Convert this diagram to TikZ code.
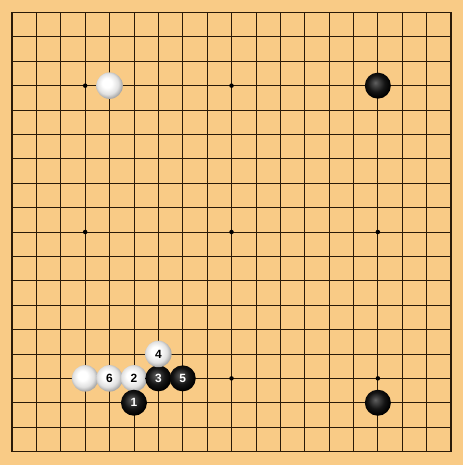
\documentclass[tikz,border=0pt]{standalone}
\usepackage{fontspec}
\setmainfont{Liberation Sans}
\definecolor{boardbg}{HTML}{F9CB86}
\definecolor{gridc}{HTML}{2A1A08}
\pgfdeclareradialshading{wball}{\pgfqpoint{-6bp}{6bp}}{color(0bp)=(white); color(9bp)=(white); color(20bp)=(black!12); color(27bp)=(black!35); color(50bp)=(black!35)}
\pgfdeclareradialshading{bball}{\pgfqpoint{-5bp}{6bp}}{color(0bp)=(black!62); color(5bp)=(black!72); color(16bp)=(black!92); color(26bp)=(black); color(50bp)=(black)}
\begin{document}
\begin{tikzpicture}[x=1bp,y=-1bp,
  gridline/.style={gridc,line width=0.8bp},
  starpt/.style={circle,fill=black,inner sep=0pt,minimum size=4.5bp},
  stonefont/.style={font=\bfseries\fontsize{12}{12}\selectfont},
  bstone/.style={circle,inner sep=0pt,minimum size=26bp,shading=bball,text=white,stonefont},
  wstone/.style={circle,inner sep=0pt,minimum size=26.5bp,shading=wball,text=black,stonefont}]
\fill[boardbg] (0,0) rectangle (463,465);
\useasboundingbox (0,0) rectangle (463,465);
\def\sp{24.39}
\foreach \i in {0,...,18}{
  \draw[gridline] (12+\i*\sp,12.5) -- (12+\i*\sp,451.5);
  \draw[gridline] (12,12.5+\i*\sp) -- (451,12.5+\i*\sp);
}
\draw[gridc,line width=1.3bp] (12,12.5) rectangle (451,451.5);
\foreach \c in {3,9,15}{\foreach \r in {3,9,15}{
  \node[starpt] (s\c\r) at (12+\c*\sp,12.5+\r*\sp) {};
}}
\node[wstone] (w1) at (12+4*\sp,12.5+3*\sp) {};
\node[bstone] (b1) at (12+15*\sp,12.5+3*\sp) {};
\node[bstone] (b2) at (12+15*\sp,12.5+16*\sp) {};
\node[wstone] (w2) at (12+3*\sp,12.5+15*\sp) {};
\node[wstone] (m6) at (12+4*\sp,12.5+15*\sp) {6};
\node[wstone] (m2) at (12+5*\sp,12.5+15*\sp) {2};
\node[bstone] (m3) at (12+6*\sp,12.5+15*\sp) {3};
\node[bstone] (m5) at (12+7*\sp,12.5+15*\sp) {5};
\node[wstone] (m4) at (12+6*\sp,12.5+14*\sp) {4};
\node[bstone] (m1) at (12+5*\sp,12.5+16*\sp) {1};
\end{tikzpicture}
\end{document}
